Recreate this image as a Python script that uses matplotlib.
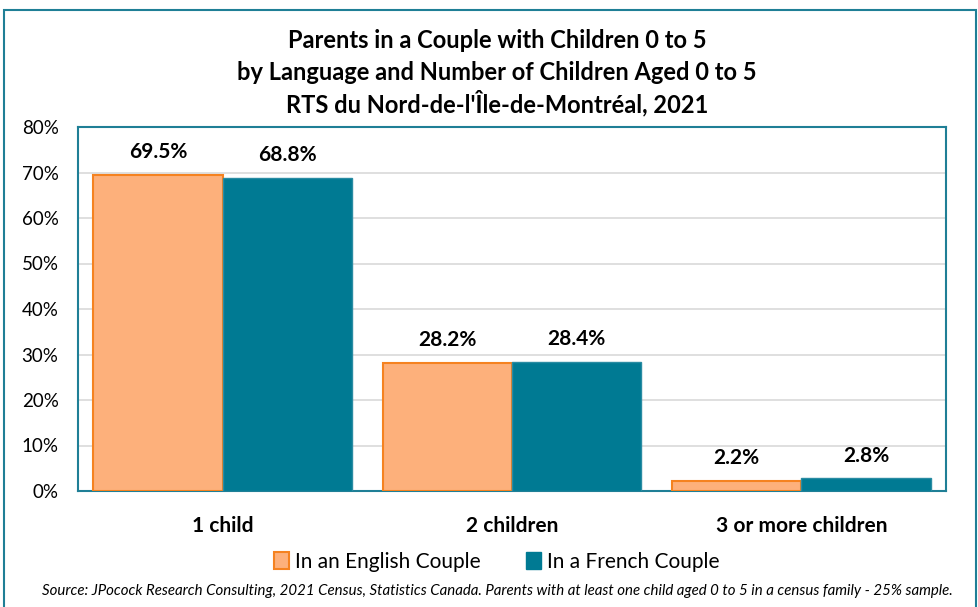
import matplotlib
matplotlib.use("Agg")
import matplotlib.pyplot as plt
from matplotlib.patches import Rectangle, Patch
import numpy as np

categories = ["1 child", "2 children", "3 or more children"]
english = [69.5, 28.2, 2.2]
french = [68.8, 28.4, 2.8]
series_names = ["In an English Couple", "In a French Couple"]
title_lines = ["Parents in a Couple with Children 0 to 5",
               "by Language and Number of Children Aged 0 to 5",
               "RTS du Nord-de-l'\u00CEle-de-Montr\u00E9al, 2021"]
source = ("Source: JPocock Research Consulting, 2021 Census, Statistics Canada. "
          "Parents with at least one child aged 0 to 5 in a census family - 25% sample.")

plt.rcParams['font.family'] = ['Lato', 'DejaVu Sans']

W, H = 979, 607
fig = plt.figure(figsize=(W/100, H/100), dpi=100)
fig.patch.set_facecolor("white")
# outer border
fig.add_artist(Rectangle((4/W, -5/H), 972/W, (H - 10 + 5)/H, transform=fig.transFigure,
                         fill=False, edgecolor="#1F7F96", linewidth=1.5))

ax = fig.add_axes([78/W, 1-491/H, (946-78)/W, (491-127)/H])
x = np.arange(len(categories))
bw = 0.447
orange_fill = "#FDB07B"
orange_edge = "#F58220"
teal = "#007A93"
ax.bar(x - bw/2, english, bw, color=orange_fill, edgecolor=orange_edge, linewidth=1.5, zorder=3)
ax.bar(x + bw/2, french, bw, color=teal, edgecolor="#2A8CA3", linewidth=1.0, zorder=3)

for xi, v in zip(x - bw/2, english):
    ax.annotate(f"{v:.1f}%", (xi, v), xytext=(0, 9), textcoords="offset points",
                ha="center", va="bottom", fontsize=15, fontweight="bold")
for xi, v in zip(x + bw/2, french):
    ax.annotate(f"{v:.1f}%", (xi, v), xytext=(0, 9), textcoords="offset points",
                ha="center", va="bottom", fontsize=15, fontweight="bold")

ax.set_xlim(-0.5, 2.5)
ax.set_ylim(0, 80)
ax.set_yticks(range(0, 81, 10))
ax.set_yticklabels([f"{t}%" for t in range(0, 81, 10)], fontsize=13.5)
ax.yaxis.grid(True, color="#D9D9D9", linewidth=1.2, zorder=0)
ax.set_axisbelow(True)
ax.tick_params(axis="y", length=0, pad=14)
ax.tick_params(axis="x", length=0, pad=18)
ax.set_xticks(x)
ax.set_xticklabels(categories, fontsize=15, fontweight="bold")
for s in ax.spines.values():
    s.set_edgecolor("#1F7F96")
    s.set_linewidth(1.5)

for i, ypx in enumerate([40, 72, 103]):
    fig.text(497/W, 1-ypx/H, title_lines[i], ha="center", va="center",
             fontsize=17, fontweight="bold")

handles = [Patch(facecolor=orange_fill, edgecolor=orange_edge, linewidth=1.5),
           Patch(facecolor=teal, edgecolor=teal)]
fig.legend(handles, series_names, loc="center", bbox_to_anchor=(497/W, 1-562/H), ncol=2,
           frameon=False, fontsize=15, handlelength=0.7, handleheight=0.9,
           handletextpad=0.3, columnspacing=2.2)

fig.text(497/W, 1-591/H, source, ha="center", va="center", fontsize=10.8, style="italic")

fig.savefig("out.png", dpi=100, facecolor="white")
